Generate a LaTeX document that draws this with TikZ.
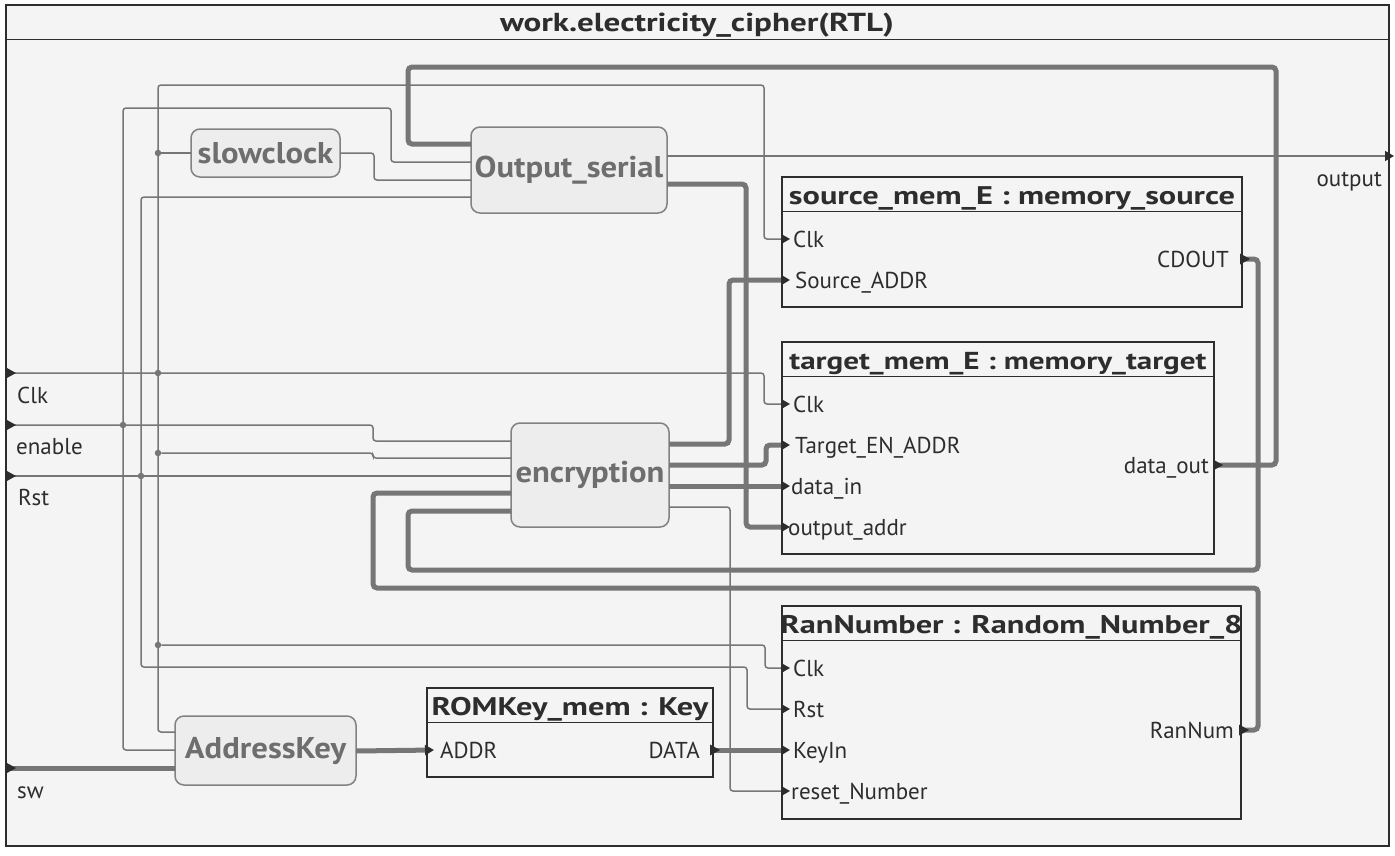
\documentclass[tikz,border=0pt]{standalone}
\usepackage{fontspec}
\setmainfont{PT Sans}
\newfontfamily\widefont[FakeStretch=1.27]{PT Sans}
\newfontfamily\modulefont[FakeStretch=1.09]{PT Sans}
\usetikzlibrary{arrows.meta, positioning, shapes.geometric}
\definecolor{bgcolor}{RGB}{244, 244, 244}
\definecolor{modulecolor}{RGB}{237, 237, 237}
\definecolor{modborder}{RGB}{130, 130, 130}
\definecolor{modtext}{RGB}{110, 110, 110}
\definecolor{wirecolor}{RGB}{118, 118, 118}
\definecolor{inkcolor}{RGB}{45, 45, 45}
\newcommand{\portmark}[1]{\fill[inkcolor] (#1) ++(0,-5.5) -- ++(10,5.5) -- ++(-10,5.5) -- cycle;}

\begin{document}
\begin{tikzpicture}[x=1pt, y=-1pt,
    frame/.style={draw=inkcolor, fill=bgcolor, line width=1.5pt, inner sep=0pt},
    module/.style={draw=modborder, fill=modulecolor, rounded corners=9pt, line width=1.5pt, font=\modulefont\fontsize{30}{36}\selectfont\bfseries, text=modtext, inner sep=0pt},
    inst/.style={draw=inkcolor, line width=1.5pt, inner sep=0pt},
    insttitle/.style={font=\widefont\fontsize{25.5}{30}\selectfont\bfseries, text=inkcolor, inner sep=0pt, anchor=base},
    pinlabel/.style={font=\fontsize{23}{27}\selectfont, text=inkcolor, inner sep=0pt},
    wire/.style={draw=wirecolor, line width=1.5pt, rounded corners=3pt},
    bus/.style={draw=wirecolor, line width=5pt, rounded corners=4pt},
    inarrow/.style={-{Triangle[length=9pt, width=10pt, color=inkcolor]}},
    junction/.style={circle, fill=wirecolor, inner sep=0pt, minimum size=6.5pt},
]
    \fill[white] (0,0) rectangle (1395,855);
    \useasboundingbox (0,0) rectangle (1395,855);

    % Frame and title
    \node[frame, minimum width=1383, minimum height=841] (frame) at (697.5,425.5) {};
    \draw[inkcolor, line width=1.5pt] ([yshift=-35pt]frame.north west) -- ([yshift=-35pt]frame.north east);
    \node[font=\widefont\fontsize{26}{30}\selectfont\bfseries, text=inkcolor, anchor=base] (title) at (697,31) {work.electricity\_cipher(RTL)};

    % Modules
    \node[module, minimum width=149, minimum height=48] (slowclock) at (265.5,153) {slowclock};
    \node[module, minimum width=196, minimum height=86] (outser) at (569,170) {Output\_serial};
    \node[module, minimum width=158, minimum height=104] (encrypt) at (590,475) {encryption};
    \node[module, minimum width=181, minimum height=69] (addrkey) at (265.5,750.5) {AddressKey};

    % Instances
    \node[inst, minimum width=460, minimum height=130] (srcmem) at (1012,242) {};
    \node[inst, minimum width=432, minimum height=212] (tgtmem) at (998,448) {};
    \node[inst, minimum width=459, minimum height=213] (rannum) at (1011.5,712.5) {};
    \node[inst, minimum width=286, minimum height=89] (romkey) at (570,732.5) {};
    \foreach \m in {srcmem, tgtmem, rannum, romkey}
        \draw[inkcolor, line width=1.5pt] ([yshift=-35pt]\m.north west) -- ([yshift=-35pt]\m.north east);
    \node[insttitle] (srcmem-t) at ([yshift=-28.5pt]srcmem.north) {source\_mem\_E : memory\_source};
    \node[insttitle, font=\widefont\fontsize{24.5}{30}\selectfont\bfseries] (tgtmem-t) at ([yshift=-28.5pt]tgtmem.north) {target\_mem\_E : memory\_target};
    \node[insttitle] (rannum-t) at ([yshift=-28.5pt]rannum.north) {RanNumber : Random\_Number\_8};
    \node[insttitle] (romkey-t) at ([yshift=-28.5pt]romkey.north) {ROMKey\_mem : Key};

    % Pins of the instances
    \coordinate (src-clk) at (790,239);
    \coordinate (src-addr) at (790,280);
    \coordinate (src-cdout) at (1240,259);
    \coordinate (tgt-clk) at (790,404);
    \coordinate (tgt-en) at (790,445);
    \coordinate (tgt-din) at (790,486);
    \coordinate (tgt-oaddr) at (790,527);
    \coordinate (tgt-dout) at (1213,465);
    \coordinate (ran-clk) at (790,668);
    \coordinate (ran-rst) at (790,709);
    \coordinate (ran-key) at (790,750);
    \coordinate (ran-reset) at (790,791);
    \coordinate (ran-out) at (1239,730);
    \coordinate (rom-addr) at (434,750);
    \coordinate (rom-data) at (710,750);

    \node[pinlabel, anchor=base west] (src-clk-l) at (793,247) {Clk};
    \node[pinlabel, anchor=base west] (src-addr-l) at (795,288) {Source\_ADDR};
    \node[pinlabel, anchor=base east] (src-cdout-l) at (1229,267) {CDOUT};
    \node[pinlabel, anchor=base west] (tgt-clk-l) at (793,412) {Clk};
    \node[pinlabel, anchor=base west] (tgt-en-l) at (795,453) {Target\_EN\_ADDR};
    \node[pinlabel, anchor=base west] (tgt-din-l) at (791,494) {data\_in};
    \node[pinlabel, anchor=base west] (tgt-oaddr-l) at (788,535) {output\_addr};
    \node[pinlabel, anchor=base east] (tgt-dout-l) at (1209,473) {data\_out};
    \node[pinlabel, anchor=base west] (ran-clk-l) at (793,676) {Clk};
    \node[pinlabel, anchor=base west] (ran-rst-l) at (793,717) {Rst};
    \node[pinlabel, anchor=base west] (ran-key-l) at (793,758) {KeyIn};
    \node[pinlabel, anchor=base west] (ran-reset-l) at (791,799) {reset\_Number};
    \node[pinlabel, anchor=base east] (ran-out-l) at (1234,738) {RanNum};
    \node[pinlabel, anchor=base west] (rom-addr-l) at (440,758) {ADDR};
    \node[pinlabel, anchor=base east] (rom-data-l) at (700,758) {DATA};

    % Pins of the modules
    \coordinate (sc-in) at (191,153);
    \coordinate (sc-out) at (340,153);
    \coordinate (os-in1) at (471,144);
    \coordinate (os-in2) at (471,162);
    \coordinate (os-in3) at (471,180);
    \coordinate (os-in4) at (471,197);
    \coordinate (os-out1) at (667,156);
    \coordinate (os-out2) at (667,184);
    \coordinate (en-in1) at (511,441);
    \coordinate (en-in2) at (511,458);
    \coordinate (en-in3) at (511,476);
    \coordinate (en-in4) at (511,493);
    \coordinate (en-in5) at (511,511);
    \coordinate (en-out1) at (669,444);
    \coordinate (en-out2) at (669,465);
    \coordinate (en-out3) at (669,486);
    \coordinate (en-out4) at (669,507);
    \coordinate (ak-in1) at (175,732);
    \coordinate (ak-in2) at (175,750);
    \coordinate (ak-in3) at (175,768);
    \coordinate (ak-out) at (356,751);

    % Top level ports
    \coordinate (clkin) at (6,373);
    \coordinate (enin) at (6,425);
    \coordinate (rstin) at (6,476);
    \coordinate (swin) at (6,768);
    \coordinate (outport) at (1394,156);
    \node[pinlabel, anchor=base west] (clkin-l) at (17,403) {Clk};
    \node[pinlabel, anchor=base west] (enin-l) at (16,454) {enable};
    \node[pinlabel, anchor=base west] (rstin-l) at (18,505) {Rst};
    \node[pinlabel, anchor=base west] (swin-l) at (17,798) {sw};
    \node[pinlabel, anchor=base east] (outport-l) at (1382,186) {output};

    % Junctions
    \node[junction] (j1) at (158,153) {};
    \node[junction] (j2) at (158,373) {};
    \node[junction] (j3) at (123,425) {};
    \node[junction] (j4) at (158,453) {};
    \node[junction] (j5) at (141,476) {};
    \node[junction] (j6) at (158,645) {};

    % Thin wires
    \draw[wire, inarrow] (ak-in1) -- (158,732) -- (158,85) -- (764,85) -- (764,239) -- (src-clk);
    \draw[wire] (j1) -- (sc-in);
    \draw[wire, inarrow] (clkin) -- (764,373) -- (764,404) -- (tgt-clk);
    \draw[wire] (j4) -- (373,453) -- (373,458) -- (en-in2);
    \draw[wire, inarrow] (j6) -- (765,645) -- (765,668) -- (ran-clk);
    \draw[wire] (enin) -- (373,425) -- (373,441) -- (en-in1);
    \draw[wire] (ak-in2) -- (123,750) -- (123,108) -- (391,108) -- (391,162) -- (os-in2);
    \draw[wire] (rstin) -- (en-in3);
    \draw[wire, inarrow] (os-in4) -- (141,197) -- (141,667) -- (747,667) -- (747,709) -- (ran-rst);
    \draw[wire] (sc-out) -- (374,153) -- (374,180) -- (os-in3);
    \draw[wire, inarrow] (os-out1) -- (outport);
    \draw[wire, inarrow] (en-out4) -- (730,507) -- (730,791) -- (ran-reset);

    % Buses
    \draw[bus, inarrow] (os-out2) -- (746,184) -- (746,527) -- (tgt-oaddr);
    \draw[bus, inarrow] (en-out1) -- (729,444) -- (729,280) -- (src-addr);
    \draw[bus, inarrow] (en-out2) -- (766,465) -- (766,445) -- (tgt-en);
    \draw[bus, inarrow] (en-out3) -- (tgt-din);
    \draw[bus] (tgt-dout) -- (1276,465) -- (1276,67) -- (408,67) -- (408,144) -- (os-in1);
    \draw[bus] (src-cdout) -- (1258,259) -- (1258,570) -- (408,570) -- (408,511) -- (en-in5);
    \draw[bus] (ran-out) -- (1258,730) -- (1258,588) -- (373,588) -- (373,493) -- (en-in4);
    \draw[bus] (swin) -- (ak-in3);
    \draw[bus, inarrow] (ak-out) -- (rom-addr);
    \draw[bus, inarrow] (rom-data) -- (ran-key);

    % Port marks
    \portmark{clkin}
    \portmark{enin}
    \portmark{rstin}
    \portmark{swin}
    \portmark{src-cdout}
    \portmark{tgt-dout}
    \portmark{ran-out}
    \portmark{rom-data}
\end{tikzpicture}
\end{document}
